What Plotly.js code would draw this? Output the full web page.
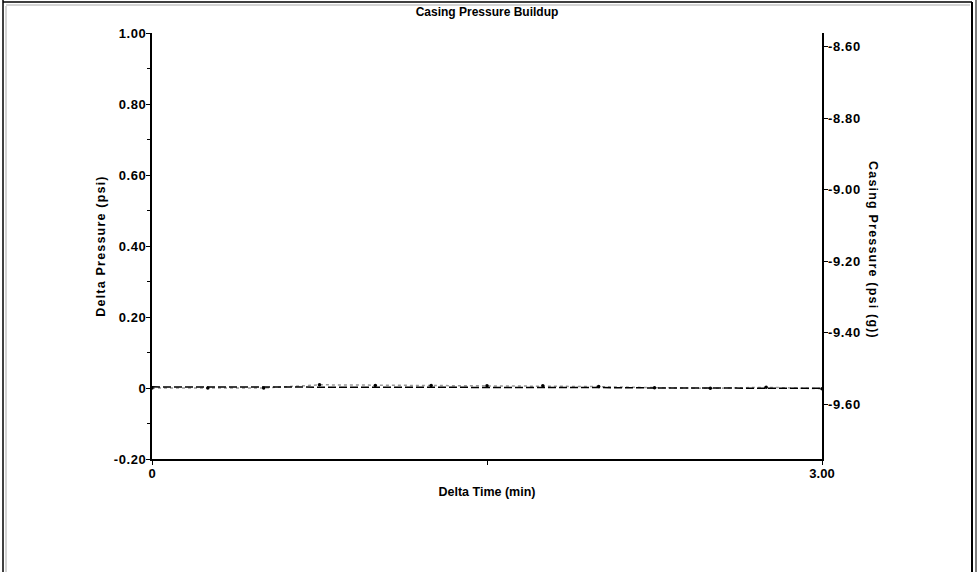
<!DOCTYPE html>
<html>
<head>
<meta charset="utf-8">
<script src="https://cdn.plot.ly/plotly-3.0.1.min.js"></script>
<style>
html,body{margin:0;padding:0;background:#fff;}#chart{width:979px;height:572px;}
.ytitle, .annotation-text { letter-spacing: 1.2px; }
.ytick text, .y2tick text { letter-spacing: 0.6px; }
</style>
</head>
<body>
<div id="chart"></div>
<script>
var deltaTime = [0, 0.25, 0.5, 0.75, 1.0, 1.25, 1.5, 1.75, 2.0, 2.25, 2.5, 2.75, 3.0];
var deltaPressure = [0, 0, 0, 0.009, 0.007, 0.007, 0.006, 0.006, 0.004, 0.001, -0.001, 0.002, -0.002];
var casingPressure = [-9.552, -9.552, -9.552, -9.553, -9.553, -9.553, -9.553, -9.554, -9.554, -9.555, -9.555, -9.556, -9.556];
var leftTickVals = [-0.2, 0, 0.2, 0.4, 0.6, 0.8, 1.0];
var leftTickText = ['-0.20', '0', '0.20', '0.40', '0.60', '0.80', '1.00'];
var rightTickVals = [-9.6, -9.4, -9.2, -9.0, -8.8, -8.6];
var rightTickText = ['-9.60', '-9.40', '-9.20', '-9.00', '-8.80', '-8.60'];
var xTickVals = [0, 1.5, 3.0];
var xTickText = ['0', '', '3.00'];

var W = 979, H = 572, L = 152, R = 157, T = 33, B = 113;
var pw = W - L - R, ph = H - T - B;
function px(x) { return (x - L) / pw; }
function py(y) { return (H - B - y) / ph; }

var fam = 'Liberation Sans, Arial, sans-serif';
var font = {family: fam, size: 12, color: '#000'};
var tickFont = {family: fam, size: 13, color: '#000', weight: 'bold'};
var titleFont = {family: fam, size: 12.5, color: '#000', weight: 'bold'};

var traces = [
  {x: deltaTime, y: deltaPressure, type: 'scatter', mode: 'lines+markers',
   line: {color: '#999999', width: 1.5, dash: 'dot'},
   marker: {color: '#000', size: 3.5}, yaxis: 'y', showlegend: false, hoverinfo: 'none'},
  {x: deltaTime, y: casingPressure, type: 'scatter', mode: 'lines',
   line: {color: '#000', width: 1.5, dash: '8px,3px'}, yaxis: 'y2', showlegend: false, hoverinfo: 'none'}
];

function line(x0, y0, x1, y1, c, w) {
  return {type: 'line', xref: 'paper', yref: 'paper', x0: px(x0), y0: py(y0), x1: px(x1), y1: py(y1),
          line: {color: c, width: w}};
}

var layout = {
  width: W, height: H,
  margin: {l: L, r: R, t: T, b: B},
  paper_bgcolor: '#fff', plot_bgcolor: '#fff',
  font: font,
  title: {text: '<b>Casing Pressure Buildup</b>', font: {family: fam, size: 12, color: '#000'},
          x: 0.5, xref: 'paper', y: 1 - 12 / H, yanchor: 'middle'},
  xaxis: {range: [0, 3.0], showgrid: false, zeroline: false, showline: true, linecolor: '#000', linewidth: 2,
          ticks: 'outside', ticklen: 4, tickwidth: 1, tickcolor: '#000', ticklabelstandoff: -3,
          tickvals: xTickVals, ticktext: xTickText, tickfont: tickFont,
          title: {text: '<b>Delta Time (min)</b>', font: titleFont, standoff: 8}},
  yaxis: {range: [-0.2, 1.0], showgrid: false, zeroline: false, showline: true, linecolor: '#000', linewidth: 2,
          ticks: 'outside', ticklen: 4, tickwidth: 1, tickcolor: '#000', ticklabelstandoff: -3,
          tickvals: leftTickVals, ticktext: leftTickText, tickfont: tickFont,
          minor: {dtick: 0.1, tick0: 0, ticks: 'outside', ticklen: 3, tickcolor: '#000', showgrid: false},
          title: {text: '<b>Delta Pressure (psi)</b>', font: titleFont, standoff: 5}},
  yaxis2: {range: [-9.754, -8.561], overlaying: 'y', side: 'right', showgrid: false, zeroline: false,
           showline: true, linecolor: '#000', linewidth: 1.5,
           ticks: 'outside', ticklen: 4, tickwidth: 1, tickcolor: '#000', ticklabelstandoff: -2,
           tickvals: rightTickVals, ticktext: rightTickText, tickfont: tickFont},
  annotations: [
    {text: '<b>Casing Pressure (psi (g))</b>', xref: 'paper', yref: 'paper', x: px(873), y: py(250),
     showarrow: false, textangle: 90, font: titleFont, xanchor: 'center', yanchor: 'middle'}
  ],
  shapes: [
    line(3, 0, 3, 572, '#000', 1.5),
    line(6, 6, 6, 572, '#aaaaaa', 1),
    line(3, 2, 972, 2, '#000', 1.5),
    line(6, 5, 970, 5, '#aaaaaa', 1),
    line(972, 2, 972, 572, '#000', 2),
    line(976, 0, 976, 572, '#555555', 1.5)
  ]
};

Plotly.newPlot('chart', traces, layout, {staticPlot: true, displayModeBar: false});
</script>
</body>
</html>
